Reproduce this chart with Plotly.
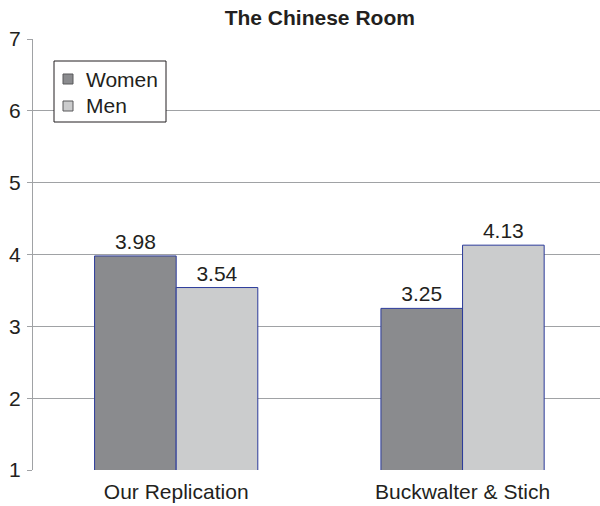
import plotly.graph_objects as go

categories = ["Our Replication", "Buckwalter &amp; Stich"]
series_names = ["Women", "Men"]
women = [3.98, 3.25]
men = [3.54, 4.13]
y_ticks = [1, 2, 3, 4, 5, 6, 7]

font = "Liberation Sans, Arial, sans-serif"
edge = dict(color="#2b3a9a", width=1)
colors = ["#8a8b8e", "#cbcccd"]
FS = 21
TXT = "#231f20"

fig = go.Figure()
for name, vals, col in zip(series_names, [women, men], colors):
    fig.add_trace(go.Bar(name=name, x=categories, y=vals,
                         marker=dict(color=col, line=edge),
                         text=[f"{v:.2f}" for v in vals], textposition="outside",
                         textfont=dict(size=FS, color=TXT, family=font), cliponaxis=False,
                         showlegend=False))

# plot-area geometry for the hand-drawn legend (pixel -> paper)
L, T, W, H = 33, 39, 567, 431
px = lambda x: (x - L) / W
py = lambda y: 1 - (y - T) / H

shapes = [dict(type="rect", xref="paper", yref="paper", x0=px(54), x1=px(166), y0=py(122), y1=py(61),
               line=dict(color=TXT, width=1), fillcolor="white", layer="above")]
annotations = []
for i, (name, col) in enumerate(zip(series_names, colors)):
    cy = 79 + i * 27
    shapes.append(dict(type="rect", xref="paper", yref="paper", x0=px(63), x1=px(73),
                       y0=py(cy + 5), y1=py(cy - 5), line=dict(color="#58595b", width=1),
                       fillcolor=col, layer="above"))
    annotations.append(dict(text=name, xref="paper", yref="paper", x=px(84), y=py(cy),
                            xanchor="left", yanchor="middle", showarrow=False,
                            font=dict(family=font, size=FS, color=TXT)))

fig.update_layout(
    width=600, height=506,
    margin=dict(l=L, r=0, t=T, b=506 - T - H),
    paper_bgcolor="white", plot_bgcolor="white",
    barmode="group", bargap=0.43, bargroupgap=0,
    title=dict(text="<b>The Chinese Room</b>", x=0.533, xanchor="center", y=0.9654, yanchor="middle",
               font=dict(family=font, size=FS, color=TXT)),
    font=dict(family=font, size=FS, color=TXT),
    showlegend=False,
    shapes=shapes, annotations=annotations,
    xaxis=dict(range=[-0.5, 1.48], showgrid=False, showline=False, ticks="",
               tickfont=dict(size=FS), zeroline=False, ticklabelstandoff=7),
    yaxis=dict(range=[1, 7], tickvals=y_ticks, showgrid=True, gridcolor="#a0a2a5", gridwidth=1,
               showline=True, linecolor="#a0a2a5", linewidth=1, ticks="outside", ticklen=5,
               tickcolor="#a0a2a5", zeroline=False, tickfont=dict(size=FS), ticklabelstandoff=2),
)
fig.write_html("out.html")
